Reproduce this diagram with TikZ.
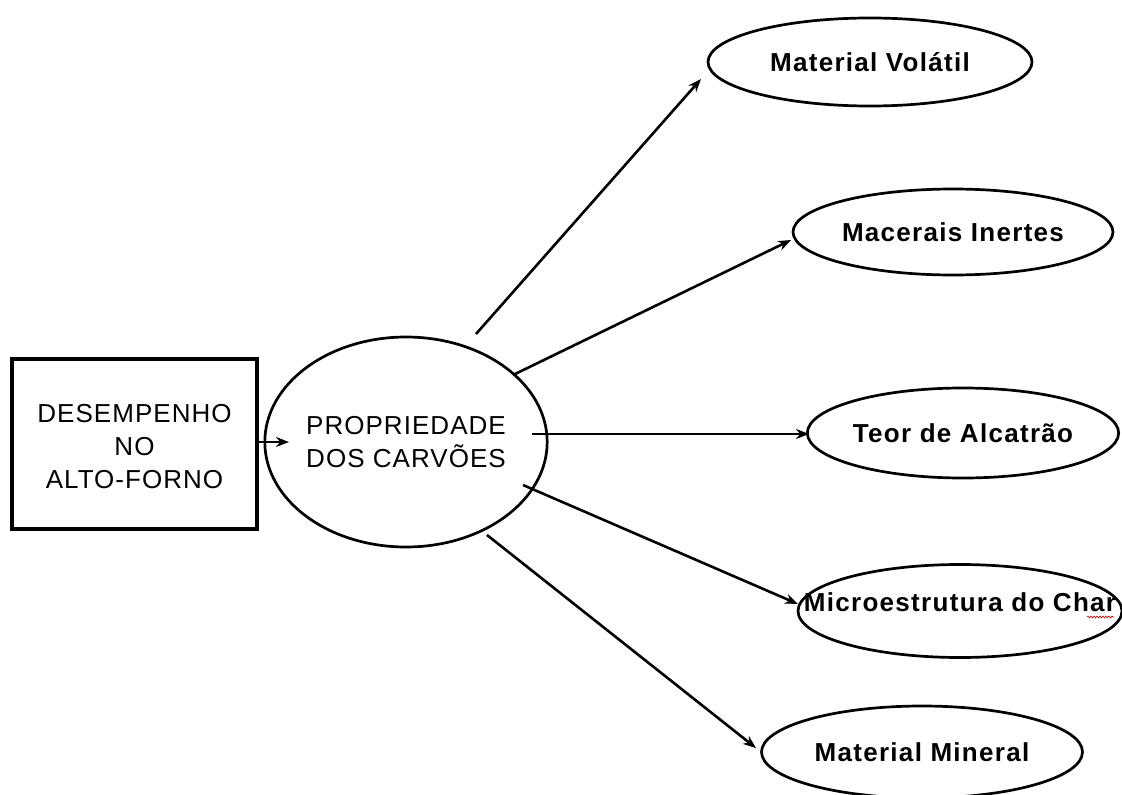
\documentclass[tikz,border=0pt]{standalone}
\usepackage{fontspec}
\setmainfont{Liberation Sans}
\newfontfamily\boxfont[LetterSpace=4]{Liberation Sans}
\newfontfamily\ellfont[LetterSpace=5]{Liberation Sans}
\usetikzlibrary{arrows.meta,shapes.geometric,decorations.pathmorphing}
\begin{document}
\begin{tikzpicture}[x=1pt,y=-1pt,
  ell/.style={draw, ellipse, line width=2.7pt, inner sep=0pt,
    font=\ellfont\bfseries\fontsize{26}{30}\selectfont},
  arr/.style={line width=2.6pt, -{Stealth[length=13pt,width=10pt]}},
  bigtext/.style={align=center, font=\boxfont\fontsize{26}{33}\selectfont}]
\useasboundingbox[fill=white] (0,0) rectangle (1122,795);

\node[draw, line width=3.2pt, minimum width=245pt, minimum height=170pt,
      inner sep=0pt, bigtext] (box) at (134.5,444)
      {\raisebox{-11pt}[0pt][0pt]{\begin{tabular}{@{}c@{}}DESEMPENHO\\NO\\ALTO-FORNO\end{tabular}}};
\node[draw, ellipse, line width=2.7pt, minimum width=236pt, minimum height=210pt,
      inner sep=0pt, bigtext] (c) at (406,442) {PROPRIEDADE\\DOS CARVÕES};

\node[ell, minimum width=324pt, minimum height=88pt] (e1) at (870,62) {Material Volátil};
\node[ell, minimum width=320pt, minimum height=86pt] (e2) at (953,232) {Macerais Inertes};
\node[ell, minimum width=306pt, minimum height=90pt] (e3) at (963,433) {Teor de Alcatrão};
\node[ell, minimum width=324pt, minimum height=93pt] (e4) at (960,611) {\raisebox{0pt}[0pt][0pt]{\makebox[0pt]{Microestrutura do Char}}};
\node[ell, minimum width=321pt, minimum height=92pt] (e5) at (922,752) {Material Mineral};

\coordinate (s0) at (258,442); \coordinate (t0) at (289,442);
\coordinate (s1) at (476,334); \coordinate (t1) at (701,79);
\coordinate (s2) at (513,375); \coordinate (t2) at (791,240);
\coordinate (s3) at (532,434); \coordinate (t3) at (809,434);
\coordinate (s4) at (523,485); \coordinate (t4) at (798,604);
\coordinate (s5) at (487,535); \coordinate (t5) at (756,748);

\draw[arr] (s0) -- (t0);
\draw[arr] (s1) -- (t1);
\draw[arr] (s2) -- (t2);
\draw[arr] (s3) -- (t3);
\draw[arr] (s4) -- (t4);
\draw[arr] (s5) -- (t5);

\coordinate (w1) at (1087,617); \coordinate (w2) at (1114,617);
\draw[red!80!black, line width=0.6pt, decorate,
      decoration={snake, amplitude=1pt, segment length=3pt}] (w1) -- (w2);
\end{tikzpicture}
\end{document}
